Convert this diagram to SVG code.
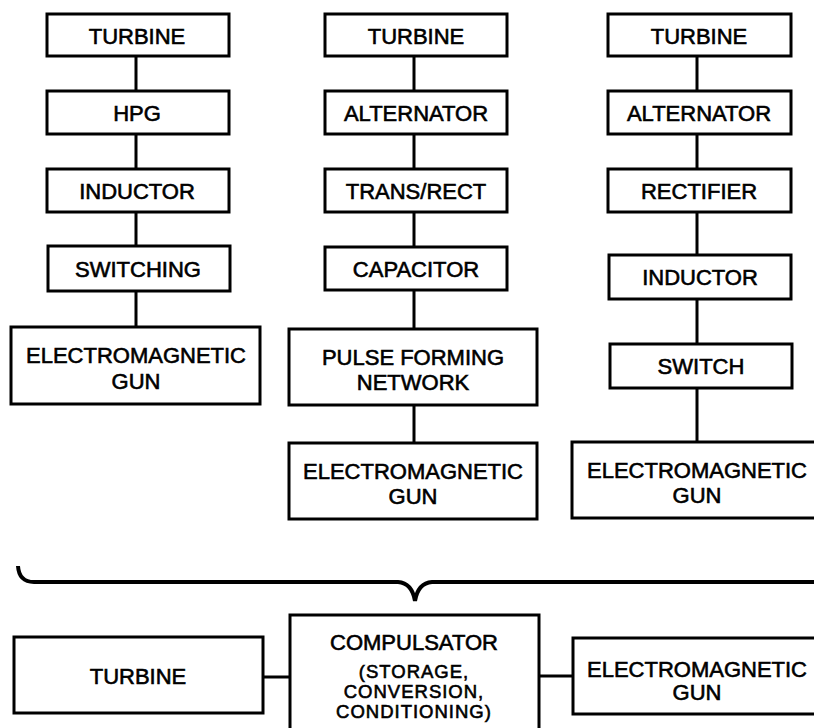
<svg xmlns="http://www.w3.org/2000/svg" width="814" height="728" viewBox="0 0 814 728">
<style>
.box{fill:#fff;stroke:#000;stroke-width:3}
.ln{fill:none;stroke:#000;stroke-width:3}
.brace{fill:none;stroke:#000;stroke-width:4}
text{font-family:"Liberation Sans",Arial,sans-serif;font-size:22px;text-anchor:middle;fill:#000;stroke:#000;stroke-width:0.6}
.sm{font-size:18.5px;letter-spacing:1px}
</style>
<rect width="814" height="728" fill="#fff"/>
<g id="connectors">
<path class="ln" d="M136 56V91M136 134V169M136 212V246M136 291V327"/>
<path class="ln" d="M414 56V91M414 134V169M414 212V247M414 290V329M414 405V443"/>
<path class="ln" d="M697 56V91M697 134V169M697 212V255M697 299V344M697 388V442"/>
<path class="ln" d="M263 677H290M539 676H573"/>
<path class="brace" d="M18 566Q19 582 34 582H398Q412 583 415 601Q418 583 432 582H816"/>
</g>
<g id="c1-turbine"><rect class="box" x="47" y="14" width="182" height="42"/><text x="137" y="44">TURBINE</text></g>
<g id="c1-hpg"><rect class="box" x="47" y="91" width="182" height="43"/><text x="137" y="121">HPG</text></g>
<g id="c1-inductor"><rect class="box" x="47" y="169" width="182" height="43"/><text x="137" y="199">INDUCTOR</text></g>
<g id="c1-switching"><rect class="box" x="48" y="246" width="182" height="45"/><text x="138" y="277">SWITCHING</text></g>
<g id="c1-gun"><rect class="box" x="11" y="327" width="249" height="77"/><text x="136" y="363">ELECTROMAGNETIC</text><text x="136" y="389">GUN</text></g>
<g id="c2-turbine"><rect class="box" x="325" y="14" width="182" height="42"/><text x="416" y="44">TURBINE</text></g>
<g id="c2-alternator"><rect class="box" x="325" y="91" width="182" height="43"/><text x="416" y="121">ALTERNATOR</text></g>
<g id="c2-transrect"><rect class="box" x="325" y="169" width="182" height="43"/><text x="416" y="199">TRANS/RECT</text></g>
<g id="c2-capacitor"><rect class="box" x="325" y="247" width="182" height="43"/><text x="416" y="277">CAPACITOR</text></g>
<g id="c2-pfn"><rect class="box" x="289" y="329" width="248" height="76"/><text x="413" y="365">PULSE FORMING</text><text x="413" y="390">NETWORK</text></g>
<g id="c2-gun"><rect class="box" x="289" y="443" width="248" height="76"/><text x="413" y="479">ELECTROMAGNETIC</text><text x="413" y="504">GUN</text></g>
<g id="c3-turbine"><rect class="box" x="608" y="14" width="183" height="42"/><text x="699" y="44">TURBINE</text></g>
<g id="c3-alternator"><rect class="box" x="608" y="91" width="183" height="43"/><text x="699" y="121">ALTERNATOR</text></g>
<g id="c3-rectifier"><rect class="box" x="608" y="169" width="183" height="43"/><text x="699" y="199">RECTIFIER</text></g>
<g id="c3-inductor"><rect class="box" x="609" y="255" width="182" height="44"/><text x="700" y="285">INDUCTOR</text></g>
<g id="c3-switch"><rect class="box" x="610" y="344" width="182" height="44"/><text x="701" y="374">SWITCH</text></g>
<g id="c3-gun"><rect class="box" x="572" y="442" width="250" height="76"/><text x="697" y="478">ELECTROMAGNETIC</text><text x="697" y="503">GUN</text></g>
<g id="b-turbine"><rect class="box" x="14" y="637" width="249" height="76"/><text x="138" y="684">TURBINE</text></g>
<g id="b-compulsator"><rect class="box" x="290" y="615" width="249" height="125"/><text x="414" y="650">COMPULSATOR</text><text class="sm" x="414" y="678">(STORAGE,</text><text class="sm" x="414" y="698">CONVERSION,</text><text class="sm" x="414" y="718">CONDITIONING)</text></g>
<g id="b-gun"><rect class="box" x="573" y="638" width="250" height="76"/><text x="697" y="677">ELECTROMAGNETIC</text><text x="697" y="700">GUN</text></g>
</svg>
